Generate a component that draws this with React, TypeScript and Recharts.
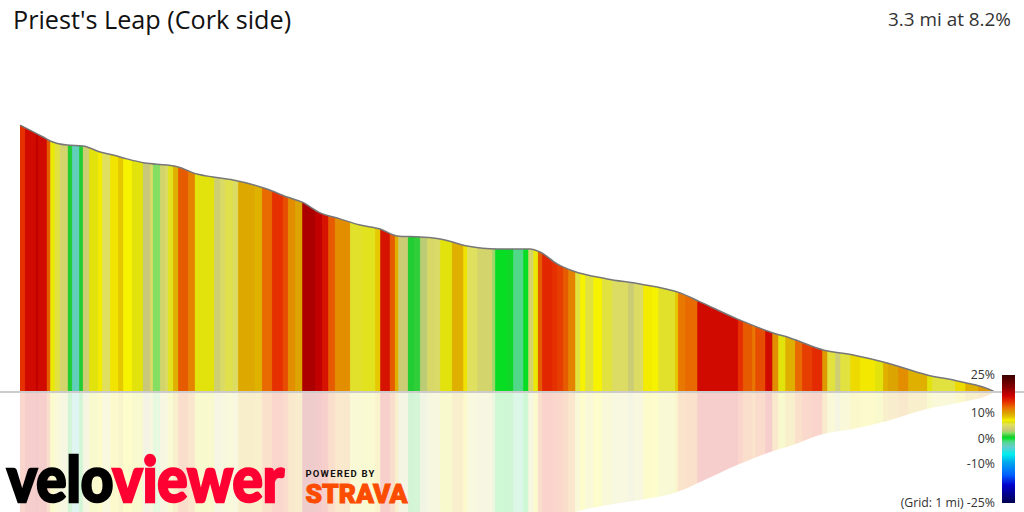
import React from 'react'
import { AreaChart, Area, XAxis, YAxis, ReferenceLine } from 'recharts'

// road profile (miles, feet above the low end)
const profileMiles = [0, 0.078, 0.102, 0.159, 0.213, 0.271, 0.315, 0.362, 0.423, 0.498, 0.535, 0.599, 0.653, 0.721, 0.836, 0.904, 0.955, 1.016, 1.083, 1.151, 1.219, 1.276, 1.354, 1.422, 1.513, 1.615, 1.726, 1.76, 1.818, 1.872, 1.987, 2.099, 2.234, 2.302, 2.427, 2.549, 2.606, 2.718, 2.82, 2.935, 3.07, 3.172, 3.294, 3.3]
const profileFeet = [1428, 1364, 1343, 1321, 1316, 1284, 1268, 1247, 1225, 1214, 1204, 1166, 1150, 1134, 1086, 1043, 1016, 958, 926, 893, 872, 835, 829, 819, 781, 765, 765, 749, 685, 647, 605, 578, 530, 482, 391, 316, 289, 225, 198, 155, 91, 59, 5, 0]

// gradient stretches: where each one ends (miles) and its grade (%)
const bandEndMiles = [0.017, 0.054, 0.061, 0.091, 0.102, 0.118, 0.135, 0.162, 0.176, 0.2, 0.213, 0.234, 0.264, 0.278, 0.305, 0.332, 0.349, 0.379, 0.416, 0.44, 0.45, 0.474, 0.491, 0.501, 0.518, 0.535, 0.569, 0.592, 0.657, 0.677, 0.694, 0.721, 0.738, 0.795, 0.819, 0.853, 0.89, 0.907, 0.931, 0.955, 0.999, 1.022, 1.043, 1.066, 1.117, 1.158, 1.202, 1.219, 1.252, 1.269, 1.28, 1.313, 1.334, 1.354, 1.378, 1.405, 1.422, 1.462, 1.5, 1.513, 1.547, 1.598, 1.608, 1.649, 1.669, 1.703, 1.72, 1.737, 1.753, 1.767, 1.801, 1.818, 1.838, 1.855, 1.879, 1.896, 1.913, 1.94, 1.97, 2.004, 2.058, 2.078, 2.109, 2.139, 2.16, 2.217, 2.227, 2.251, 2.292, 2.359, 2.43, 2.447, 2.478, 2.488, 2.522, 2.546, 2.566, 2.59, 2.623, 2.647, 2.681, 2.715, 2.732, 2.759, 2.776, 2.81, 2.843, 2.894, 2.921, 2.938, 2.972, 3.006, 3.07, 3.087, 3.165, 3.199, 3.243, 3.3]
const bandGrades = [14.5, 16.5, 17.5, 16.5, 13, 7, 6, 4.5, 1, -2.5, 1, 4, 6.8, 7.5, 5.5, 7.7, 8.5, 7.3, 6.8, 3.5, 5, 2.4, 4.5, 5, 6.5, 9.5, 13, 11.5, 6.8, 4, 5, 5.8, 5.2, 9.8, 9.4, 12.5, 14.5, 13.5, 11, 10, 18.5, 17.5, 16, 13, 11, 6.3, 6.5, 8.5, 16, 13, 9.5, 3.8, 1, 1.2, 3.3, 4.8, 5, 6.8, 9.5, 7.8, 5.5, 4.5, 2.8, 0.5, 0.7, -1, 0.5, 4.5, 7, 13, 15, 14.5, 14, 13, 11.5, 6, 7.3, 6, 7.3, 6, 5.2, 3.8, 5.2, 7.5, 7.3, 6.3, 8.5, 12, 12.5, 16.5, 16.5, 14.5, 13, 12, 13.5, 16.5, 11, 6.8, 9.5, 12.5, 14, 14.8, 10.5, 6, 4, 6, 8, 7.6, 6.8, 9.5, 10, 11, 9.5, 6.8, 6, 8, 9.5, 10.5]

// colour ramp of the key on the right
const rampGrades = [25, 20, 17, 14.5, 12, 10, 8.5, 7.3, 6.8, 5.5, 3.5, 2.4, 1, 0.4, -1, -3, -6, -9, -14, -18, -25]
const rampColors = ['#3a0000', '#8b0000', '#cc0000', '#e63000', '#e87800', '#dca400', '#e6c800', '#f6f200', '#e2e20c', '#e0e060', '#c8c878', '#84de62', '#22cc33', '#00e020', '#50d888', '#66cccc', '#00eeee', '#00aaee', '#0060ff', '#0000cc', '#000050']

const keyLabels = ['25%', '10%', '0%', '-10%', '(Grid: 1 mi) -25%']
const keyLabelTops = [375, 413, 439, 464, 503]

const data = profileMiles.map((mile, i) => ({
  mile,
  elevation: profileFeet[i],
  mirror: -profileFeet[i]
}))

const hexToRgb = (hex: string) => [1, 3, 5].map((i) => parseInt(hex.slice(i, i + 2), 16))

const gradeColor = (grade: number) => {
  for (let i = 1; i < rampGrades.length; i++) {
    if (grade >= rampGrades[i]) {
      const t = (grade - rampGrades[i]) / (rampGrades[i - 1] - rampGrades[i])
      const low = hexToRgb(rampColors[i])
      const high = hexToRgb(rampColors[i - 1])
      const mixed = low.map((v, k) => Math.round(v + (high[k] - v) * t))
      return `rgb(${mixed.join(',')})`
    }
  }
  return rampColors[rampColors.length - 1]
}

const TOTAL_MILES = 3.3
const FONT = '"Open Sans", sans-serif'

const BandStops = () =>
  bandGrades.flatMap((grade, i) => {
    const start = i === 0 ? 0 : bandEndMiles[i - 1]
    const end = bandEndMiles[i]
    const color = gradeColor(grade)
    return [
      <stop key={`a${i}`} offset={(start + 0.002) / TOTAL_MILES} stopColor={color} />,
      <stop key={`b${i}`} offset={(end - 0.002) / TOTAL_MILES} stopColor={color} />
    ]
  })

const rampCss = rampGrades
  .map((g, i) => `${rampColors[i]} ${((25 - g) / 50) * 100}%`)
  .join(', ')

export default function App() {
  return (
    <div style={{ position: 'absolute', left: 0, top: 0, width: 1024, height: 512, overflow: 'hidden', background: '#fff', fontFamily: FONT }}>
      <AreaChart width={1024} height={512} data={data} margin={{ top: 0, right: 0, bottom: 0, left: 0 }}>
        <defs>
          <linearGradient id="gradeFill" x1="0" y1="0" x2="1" y2="0">
            {BandStops()}
          </linearGradient>
        </defs>
        <XAxis type="number" dataKey="mile" domain={[-0.0677, 3.398]} allowDataOverflow hide />
        <YAxis type="number" domain={[-642, 2097]} allowDataOverflow hide />
        <ReferenceLine y={0} stroke="#cccccc" strokeWidth={2} />
        <Area
          type="monotone"
          dataKey="mirror"
          baseValue={0}
          stroke="none"
          fill="url(#gradeFill)"
          fillOpacity={0.2}
          dot={false}
          activeDot={false}
          isAnimationActive={false}
        />
        <Area
          type="monotone"
          dataKey="elevation"
          baseValue={0}
          stroke="#777777"
          strokeWidth={1.5}
          fill="url(#gradeFill)"
          fillOpacity={1}
          dot={false}
          activeDot={false}
          isAnimationActive={false}
        />
      </AreaChart>

      <div style={{ position: 'absolute', left: 13, top: 3, fontSize: 25.2, lineHeight: '33px', color: '#111', whiteSpace: 'nowrap' }}>
        Priest's Leap (Cork side)
      </div>
      <div style={{ position: 'absolute', right: 13, top: 7, fontSize: 18.9, lineHeight: '24px', color: '#333', whiteSpace: 'nowrap' }}>
        3.3 mi at 8.2%
      </div>

      <div style={{ position: 'absolute', left: 1002, top: 375, width: 13, height: 128, background: `linear-gradient(to bottom, ${rampCss})` }} />
      {keyLabels.map((label, i) => (
        <div
          key={label}
          style={{ position: 'absolute', right: 29, top: keyLabelTops[i] - 9, fontSize: 12.3, lineHeight: '17px', color: '#333', whiteSpace: 'nowrap' }}
        >
          {label}
        </div>
      ))}

      <svg width={420} height={70} style={{ position: 'absolute', left: 0, top: 442 }}>
        <text x={7} y={60} fontFamily="Lato, sans-serif" fontWeight={900} fontSize={62} stroke="#000" strokeWidth={2.5} fill="#000" textLength={277} lengthAdjust="spacingAndGlyphs">
          velo
          <tspan fill="#ff0033" stroke="#ff0033">viewer</tspan>
        </text>
        <text x={305.5} y={34.5} fontFamily="Roboto, sans-serif" fontWeight={700} fontSize={9.5} fill="#111" textLength={69} lengthAdjust="spacing">
          POWERED BY
        </text>
        <text x={305.5} y={60.5} fontFamily="Roboto, sans-serif" fontWeight={900} fontSize={26} stroke="#fc4c02" strokeWidth={1} fill="#fc4c02" textLength={102} lengthAdjust="spacingAndGlyphs">
          STRAVA
        </text>
      </svg>
    </div>
  )
}
